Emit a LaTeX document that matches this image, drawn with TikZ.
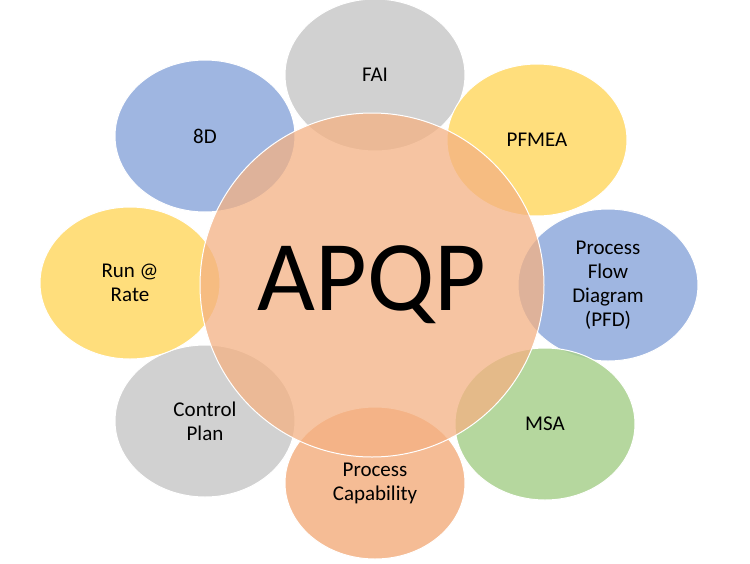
\documentclass[tikz,border=0pt]{standalone}
\usepackage{fontspec}
\setmainfont{Carlito}
\usetikzlibrary{shapes.geometric}
\definecolor{grayc}{HTML}{C9C9C9}
\definecolor{yellowc}{HTML}{FFD966}
\definecolor{bluec}{HTML}{8FAADC}
\definecolor{greenc}{HTML}{A9D18E}
\definecolor{orangec}{HTML}{F4B183}
\tikzstyle{petal}=[ellipse,
    minimum width=180pt,
    minimum height=152pt,
    draw=white,
    line width=1pt,
    fill opacity=0.85,
    text opacity=1,
    align=center,
    font=\fontsize{21}{24}\selectfont]

\begin{document}
\begin{tikzpicture}[x=1pt,y=-1pt]
            \useasboundingbox (0,0) rectangle (750,563);
            \fill[white] (0,0) rectangle (750,563);
            \node (fai) [petal,fill=grayc] at (375,75) {FAI};
            \node (pfmea) [petal,fill=yellowc] at (537,140) {PFMEA};
            \node (pfd) [petal,fill=bluec] at (608,285) {Process\\Flow\\Diagram\\(PFD)};
            \node (msa) [petal,fill=greenc] at (545,424) {MSA};
            \node (cap) [petal,fill=orangec] at (375,483) {Process\\Capability};
            \node (ctrl) [petal,fill=grayc] at (205,421) {Control\\Plan};
            \node (run) [petal,fill=yellowc] at (130,283) {Run @\\Rate};
            \node (eightd) [petal,fill=bluec] at (205,136) {8D};
            % central circle
            \node (apqp) [circle,minimum size=344pt,draw=white,line width=1pt,
                fill=orangec,fill opacity=0.75,text opacity=1,
                font=\fontsize{100}{110}\selectfont] at (372,285) {APQP};
        \end{tikzpicture}
\end{document}
